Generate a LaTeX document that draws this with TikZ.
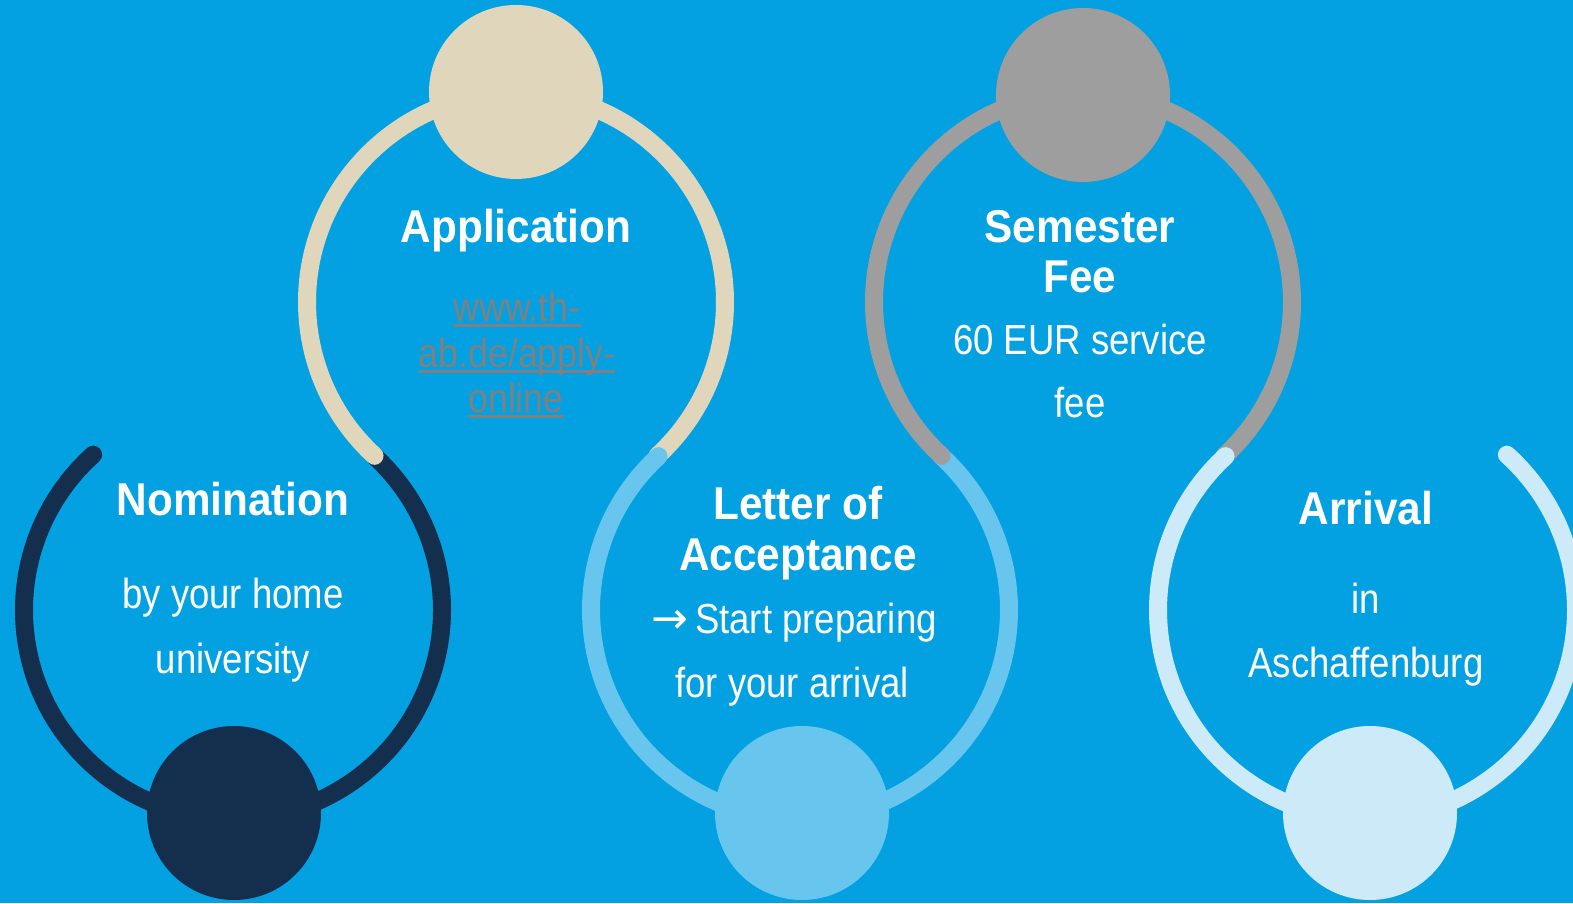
\documentclass[tikz,border=0pt]{standalone}
\usepackage{fontspec}
\setmainfont{Liberation Sans}
\newfontfamily\headfont[FakeStretch=0.92]{Liberation Sans}
\newfontfamily\condfont[FakeStretch=0.87]{Liberation Sans}
\newfontfamily\arrowfont{DejaVu Sans}
\definecolor{bgblue}{HTML}{03A1E1}
\definecolor{navy}{HTML}{142E4E}
\definecolor{sand}{HTML}{E0D6BC}
\definecolor{skyblue}{HTML}{67C5EE}
\definecolor{stone}{HTML}{9E9E9E}
\definecolor{paleblue}{HTML}{CDEAF8}
\definecolor{linkgrey}{HTML}{808080}

\begin{document}
\begin{tikzpicture}[x=1pt,y=1pt]
   \tikzset{ring/.style={line width=18pt,line cap=round}}
   \tikzset{dot/.style={circle,inner sep=0pt,minimum size=174pt}}
   \tikzset{head/.style={text=white,anchor=base,font=\headfont\bfseries\fontsize{46}{50}\selectfont}}
   \tikzset{body/.style={text=white,anchor=base,font=\condfont\fontsize{42}{50}\selectfont}}
   \tikzset{link/.style={text=linkgrey,anchor=base,inner xsep=0pt,font=\condfont\fontsize{41}{46}\selectfont}}
   \clip (0,0) rectangle (1573,903);
   \fill[bgblue] (0,0) rectangle (1573,903);
   % ring centres
   \coordinate (nom) at (233,293);
   \coordinate (app) at (516,601);
   \coordinate (let) at (800,293);
   \coordinate (sem) at (1083,601);
   \coordinate (arr) at (1367,293);
   % rings
   \draw[ring,navy] ([shift={(132:209)}]nom) arc[start angle=132,end angle=407.4,radius=209];
   \draw[ring,sand] ([shift={(227.4:209)}]app) arc[start angle=227.4,end angle=-47.4,radius=209];
   \draw[ring,skyblue] ([shift={(132.6:209)}]let) arc[start angle=132.6,end angle=407.4,radius=209];
   \draw[ring,stone] ([shift={(227.4:209)}]sem) arc[start angle=227.4,end angle=-47.4,radius=209];
   \draw[ring,paleblue] ([shift={(132.6:209)}]arr) arc[start angle=132.6,end angle=408,radius=209];
   % dots
   \node[dot,fill=navy] (nomdot) at (234,90) {};
   \node[dot,fill=sand] (appdot) at (516,811) {};
   \node[dot,fill=skyblue] (letdot) at (802,90) {};
   \node[dot,fill=stone] (semdot) at (1083,808) {};
   \node[dot,fill=paleblue] (arrdot) at (1370,90) {};
   % Nomination
   \node[head] (nomhead) at (233,387) {Nomination};
   \node[body] (nomtxt1) at (233,295) {by your home};
   \node[body] (nomtxt2) at (233,230) {university};
   % Application
   \node[head] (apphead) at (516,660) {Application};
   \node[link] (applnk1) at (517,581) {www.th-};
   \node[link] (applnk2) at (517,535) {ab.de/apply-};
   \node[link] (applnk3) at (516,490) {online};
   \draw[linkgrey,line width=3pt] ([yshift=-4pt]applnk1.base west) -- ([yshift=-4pt]applnk1.base east);
   \draw[linkgrey,line width=3pt] ([yshift=-4pt]applnk2.base west) -- ([yshift=-4pt]applnk2.base east);
   \draw[linkgrey,line width=3pt] ([yshift=-4pt]applnk3.base west) -- ([yshift=-4pt]applnk3.base east);
   % Semester Fee
   \node[head] (semhead1) at (1080,660) {Semester};
   \node[head] (semhead2) at (1080,610) {Fee};
   \node[body] (semtxt1) at (1080,548) {60 EUR service};
   \node[body] (semtxt2) at (1080,485) {fee};
   % Letter of Acceptance
   \node[head] (lethead1) at (798,384) {Letter of};
   \node[head] (lethead2) at (798,333) {Acceptance};
   \node[body] (lettxt1) at (794,270) {{\arrowfont\fontsize{44}{50}\selectfont →}\,Start preparing};
   \node[body] (lettxt2) at (792,206) {for your arrival};
   % Arrival
   \node[head] (arrhead) at (1366,378) {Arrival};
   \node[body] (arrtxt1) at (1366,290) {in};
   \node[body] (arrtxt2) at (1366,226) {Aschaffenburg};
\end{tikzpicture}
\end{document}
